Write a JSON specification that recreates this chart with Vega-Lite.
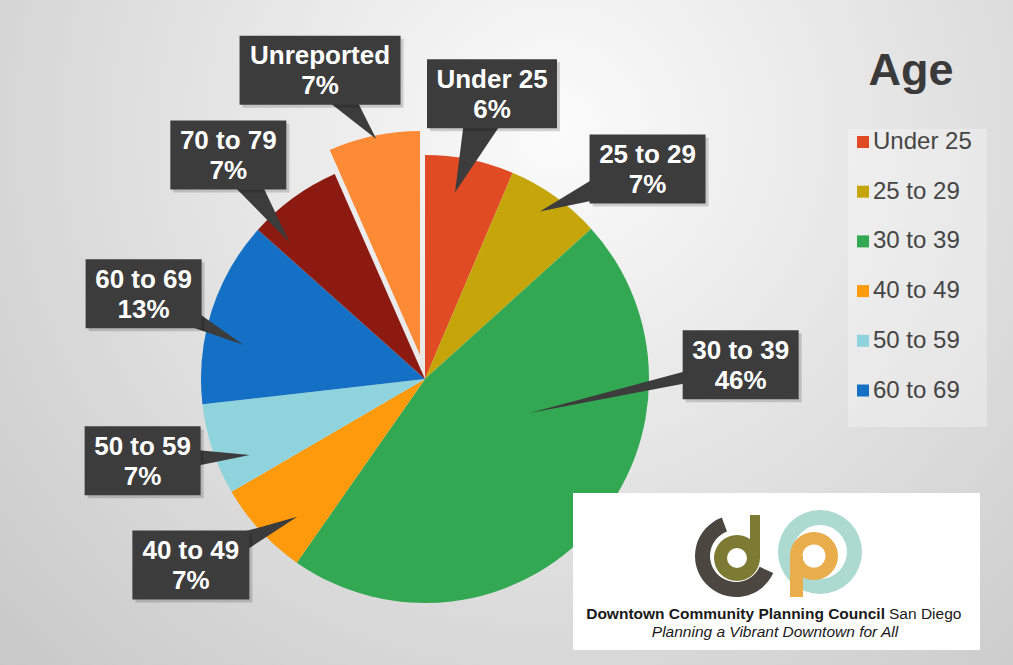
{
  "$schema": "https://vega.github.io/schema/vega-lite/v6.json",
  "width": 1013,
  "height": 665,
  "autosize": {"type": "fit", "contains": "padding"},
  "padding": 0,
  "background": "#ffffff",
  "config": {"view": {"stroke": null}, "font": "Liberation Sans"},
  "params": [
    {"name": "callout", "value": {
      "Under 25": [1.7, 293, -2.4, 189, 65, 25],
      "25 to 29": [11.2, 306, -1, 203, 58, 20],
      "30 to 39": [-44, 316, -23.4, 110, 58, 8],
      "40 to 49": [4.2, 299, -4.5, 188, 58.5, 18],
      "50 to 59": [2.2, 294, -5.1, 191, 58, 16],
      "60 to 69": [-0.8, 294, -7, 185, 58, 16],
      "70 to 79": [-5.3, 298, -8.8, 192, 58, 18],
      "Unreported": [-6.9, 326, 0.4, 245, 80.5, 20]
    }}
  ],
  "datasets": {
    "ages": [
      {"idx": 0, "age": "Under 25", "share": 0.064},
      {"idx": 1, "age": "25 to 29", "share": 0.069},
      {"idx": 2, "age": "30 to 39", "share": 0.464},
      {"idx": 3, "age": "40 to 49", "share": 0.069},
      {"idx": 4, "age": "50 to 59", "share": 0.066},
      {"idx": 5, "age": "60 to 69", "share": 0.134},
      {"idx": 6, "age": "70 to 79", "share": 0.068},
      {"idx": 7, "age": "Unreported", "share": 0.066}
    ]
  },
  "data": {"name": "ages"},
  "layer": [
    {
      "data": {"values": [{}]},
      "mark": {"type": "rect", "fill": {"gradient": "radial", "x1": 0.55, "y1": 0.3, "r1": 0, "x2": 0.55, "y2": 0.3, "r2": 0.85, "stops": [{"offset": 0, "color": "#fbfbfb"}, {"offset": 1, "color": "#c2c2c2"}]}},
      "encoding": {}
    },
    {
      "data": {"values": [{}]},
      "mark": {"type": "rect", "fill": "#ffffff", "opacity": 0.3},
      "encoding": {"x": {"value": 848}, "x2": {"value": 987}, "y": {"value": 129}, "y2": {"value": 427}}
    },
    {
      "mark": {"type": "arc", "outerRadius": 224},
      "encoding": {
        "theta": {"field": "share", "type": "quantitative", "stack": true, "scale": {"domain": [0, 1]}},
        "order": {"field": "idx", "type": "quantitative"},
        "color": {
          "field": "age", "type": "nominal",
          "scale": {"domain": ["Under 25", "25 to 29", "30 to 39", "40 to 49", "50 to 59", "60 to 69", "70 to 79", "Unreported"], "range": ["#e04b24", "#c5a50a", "#33a853", "#fe9a0b", "#8fd4dc", "#1370c5", "#8c1a10", "#fd8b35"]},
          "legend": {"values": ["Under 25", "25 to 29", "30 to 39", "40 to 49", "50 to 59", "60 to 69"], "title": "Age", "orient": "none", "legendX": 851, "legendY": 49, "padding": 0, "titleFont": "Liberation Sans", "titleFontSize": 45, "titleFontWeight": "bold", "titleColor": "#3a3a3a", "titleAnchor": "middle", "titlePadding": 36, "labelFont": "Liberation Sans", "labelFontSize": 24, "labelColor": "#454545", "labelLimit": 300, "labelOffset": -2, "symbolType": "square", "symbolSize": 144, "symbolStrokeWidth": 0, "rowPadding": 25.7}
        },
        "opacity": {"condition": {"test": "datum.age === 'Unreported'", "value": 0}, "value": 1},
        "x": {"value": 425},
        "y": {"value": 379}
      }
    },
    {
      "mark": {"type": "arc", "outerRadius": 224},
      "encoding": {
        "theta": {"field": "share", "type": "quantitative", "stack": true, "scale": {"domain": [0, 1]}},
        "order": {"field": "idx", "type": "quantitative"},
        "color": {
          "field": "age", "type": "nominal",
          "scale": {"domain": ["Under 25", "25 to 29", "30 to 39", "40 to 49", "50 to 59", "60 to 69", "70 to 79", "Unreported"], "range": ["#e04b24", "#c5a50a", "#33a853", "#fe9a0b", "#8fd4dc", "#1370c5", "#8c1a10", "#fd8b35"]},
          "legend": {"values": ["Under 25", "25 to 29", "30 to 39", "40 to 49", "50 to 59", "60 to 69"], "title": "Age", "orient": "none", "legendX": 851, "legendY": 49, "padding": 0, "titleFont": "Liberation Sans", "titleFontSize": 45, "titleFontWeight": "bold", "titleColor": "#3a3a3a", "titleAnchor": "middle", "titlePadding": 36, "labelFont": "Liberation Sans", "labelFontSize": 24, "labelColor": "#454545", "labelLimit": 300, "labelOffset": -2, "symbolType": "square", "symbolSize": 144, "symbolStrokeWidth": 0, "rowPadding": 25.7}
        },
        "opacity": {"condition": {"test": "datum.age === 'Unreported'", "value": 1}, "value": 0},
        "x": {"value": 420},
        "y": {"value": 355}
      }
    },
    {
      "transform": [
        {"stack": "share", "groupby": [], "sort": [{"field": "idx", "order": "ascending"}], "as": ["s0", "s1"]},
        {"fold": ["s0", "s1"], "as": ["edge", "pos"]},
        {"aggregate": [{"op": "mean", "field": "pos", "as": "mid"}], "groupby": ["idx", "age", "share"]}
      ],
      "layer": [
        {
          "mark": {"type": "arc", "fill": "#3c3c3c", "innerRadius": 0,
            "theta": {"expr": "atan2((callout[datum.age][1]*sin((datum.mid*360+callout[datum.age][0])*PI/180)-callout[datum.age][3]*sin((datum.mid*360+callout[datum.age][2])*PI/180)),(callout[datum.age][1]*cos((datum.mid*360+callout[datum.age][0])*PI/180)-callout[datum.age][3]*cos((datum.mid*360+callout[datum.age][2])*PI/180)))-atan2(callout[datum.age][5],sqrt(pow(callout[datum.age][1]*sin((datum.mid*360+callout[datum.age][0])*PI/180)-callout[datum.age][3]*sin((datum.mid*360+callout[datum.age][2])*PI/180),2)+pow(callout[datum.age][1]*cos((datum.mid*360+callout[datum.age][0])*PI/180)-callout[datum.age][3]*cos((datum.mid*360+callout[datum.age][2])*PI/180),2)))"},
            "theta2": {"expr": "atan2((callout[datum.age][1]*sin((datum.mid*360+callout[datum.age][0])*PI/180)-callout[datum.age][3]*sin((datum.mid*360+callout[datum.age][2])*PI/180)),(callout[datum.age][1]*cos((datum.mid*360+callout[datum.age][0])*PI/180)-callout[datum.age][3]*cos((datum.mid*360+callout[datum.age][2])*PI/180)))+atan2(callout[datum.age][5],sqrt(pow(callout[datum.age][1]*sin((datum.mid*360+callout[datum.age][0])*PI/180)-callout[datum.age][3]*sin((datum.mid*360+callout[datum.age][2])*PI/180),2)+pow(callout[datum.age][1]*cos((datum.mid*360+callout[datum.age][0])*PI/180)-callout[datum.age][3]*cos((datum.mid*360+callout[datum.age][2])*PI/180),2)))"},
            "outerRadius": {"expr": "sqrt(pow(callout[datum.age][1]*sin((datum.mid*360+callout[datum.age][0])*PI/180)-callout[datum.age][3]*sin((datum.mid*360+callout[datum.age][2])*PI/180),2)+pow(callout[datum.age][1]*cos((datum.mid*360+callout[datum.age][0])*PI/180)-callout[datum.age][3]*cos((datum.mid*360+callout[datum.age][2])*PI/180),2))"}
          },
          "encoding": {
            "x": {"value": {"expr": "425+callout[datum.age][3]*sin((datum.mid*360+callout[datum.age][2])*PI/180)"}},
            "y": {"value": {"expr": "379-callout[datum.age][3]*cos((datum.mid*360+callout[datum.age][2])*PI/180)"}}
          }
        },
        {
          "mark": {"type": "rect", "fill": "#000000", "opacity": 0.16},
          "encoding": {
            "x": {"value": {"expr": "428+callout[datum.age][1]*sin((datum.mid*360+callout[datum.age][0])*PI/180)-callout[datum.age][4]"}},
            "x2": {"value": {"expr": "428+callout[datum.age][1]*sin((datum.mid*360+callout[datum.age][0])*PI/180)+callout[datum.age][4]"}},
            "y": {"value": {"expr": "382-callout[datum.age][1]*cos((datum.mid*360+callout[datum.age][0])*PI/180)-34.5"}},
            "y2": {"value": {"expr": "382-callout[datum.age][1]*cos((datum.mid*360+callout[datum.age][0])*PI/180)+34.5"}}
          }
        },
        {
          "mark": {"type": "rect", "fill": "#3c3c3c"},
          "encoding": {
            "x": {"value": {"expr": "425+callout[datum.age][1]*sin((datum.mid*360+callout[datum.age][0])*PI/180)-callout[datum.age][4]"}},
            "x2": {"value": {"expr": "425+callout[datum.age][1]*sin((datum.mid*360+callout[datum.age][0])*PI/180)+callout[datum.age][4]"}},
            "y": {"value": {"expr": "379-callout[datum.age][1]*cos((datum.mid*360+callout[datum.age][0])*PI/180)-34.5"}},
            "y2": {"value": {"expr": "379-callout[datum.age][1]*cos((datum.mid*360+callout[datum.age][0])*PI/180)+34.5"}}
          }
        },
        {
          "mark": {"type": "text", "font": "Liberation Sans", "fontSize": 26, "fontWeight": "bold", "fill": "#ffffff", "align": "center", "baseline": "middle", "dy": -14, "radius": {"expr": "callout[datum.age][1]"}, "theta": {"expr": "(datum.mid*360 + callout[datum.age][0])*PI/180"}},
          "encoding": {"text": {"field": "age", "type": "nominal"}, "x": {"value": 425}, "y": {"value": 379}}
        },
        {
          "mark": {"type": "text", "font": "Liberation Sans", "fontSize": 26, "fontWeight": "bold", "fill": "#ffffff", "align": "center", "baseline": "middle", "dy": 16, "radius": {"expr": "callout[datum.age][1]"}, "theta": {"expr": "(datum.mid*360 + callout[datum.age][0])*PI/180"}},
          "encoding": {"text": {"field": "share", "type": "quantitative", "format": ".0%"}, "x": {"value": 425}, "y": {"value": 379}}
        }
      ]
    },
    {
      "data": {"values": [{}]},
      "mark": {"type": "rect", "fill": "#ffffff"},
      "encoding": {"x": {"value": 573}, "x2": {"value": 980}, "y": {"value": 493}, "y2": {"value": 650}}
    },
    {
      "data": {"values": [{}]},
      "mark": {"type": "arc", "fill": "#acd9d0", "innerRadius": 27, "outerRadius": 42, "theta": 0, "theta2": 6.2832},
      "encoding": {"x": {"value": 820}, "y": {"value": 552}}
    },
    {
      "data": {"values": [{}]},
      "mark": {"type": "arc", "fill": "#4b463f", "innerRadius": 26, "outerRadius": 41, "theta": 2.0, "theta2": 5.93},
      "encoding": {"x": {"value": 736}, "y": {"value": 556}}
    },
    {
      "data": {"values": [{}]},
      "mark": {"type": "arc", "fill": "#7d7a34", "innerRadius": 10, "outerRadius": 23, "theta": 0, "theta2": 6.2832},
      "encoding": {"x": {"value": 737}, "y": {"value": 558}}
    },
    {
      "data": {"values": [{}]},
      "mark": {"type": "rect", "fill": "#7d7a34"},
      "encoding": {"x": {"value": 750}, "x2": {"value": 760}, "y": {"value": 515}, "y2": {"value": 558}}
    },
    {
      "data": {"values": [{}]},
      "mark": {"type": "arc", "fill": "#e9ad4c", "innerRadius": 11.5, "outerRadius": 24, "theta": 0, "theta2": 6.2832},
      "encoding": {"x": {"value": 814}, "y": {"value": 556}}
    },
    {
      "data": {"values": [{}]},
      "mark": {"type": "rect", "fill": "#e9ad4c"},
      "encoding": {"x": {"value": 790}, "x2": {"value": 803}, "y": {"value": 556}, "y2": {"value": 597}}
    },
    {
      "data": {"values": [{}]},
      "mark": {"type": "text", "text": "Downtown Community Planning Council", "font": "Liberation Sans", "fontWeight": "bold", "fontSize": 15.5, "fill": "#1a1a1a", "align": "right", "baseline": "alphabetic"},
      "encoding": {"x": {"value": 885}, "y": {"value": 619}}
    },
    {
      "data": {"values": [{}]},
      "mark": {"type": "text", "text": "San Diego", "font": "Liberation Sans", "fontSize": 15.5, "fill": "#1a1a1a", "align": "left", "baseline": "alphabetic"},
      "encoding": {"x": {"value": 889}, "y": {"value": 619}}
    },
    {
      "data": {"values": [{}]},
      "mark": {"type": "text", "text": "Planning a Vibrant Downtown for All", "font": "Liberation Sans", "fontStyle": "italic", "fontSize": 15.5, "fill": "#1a1a1a", "align": "center", "baseline": "alphabetic"},
      "encoding": {"x": {"value": 775}, "y": {"value": 637}}
    }
  ]
}
